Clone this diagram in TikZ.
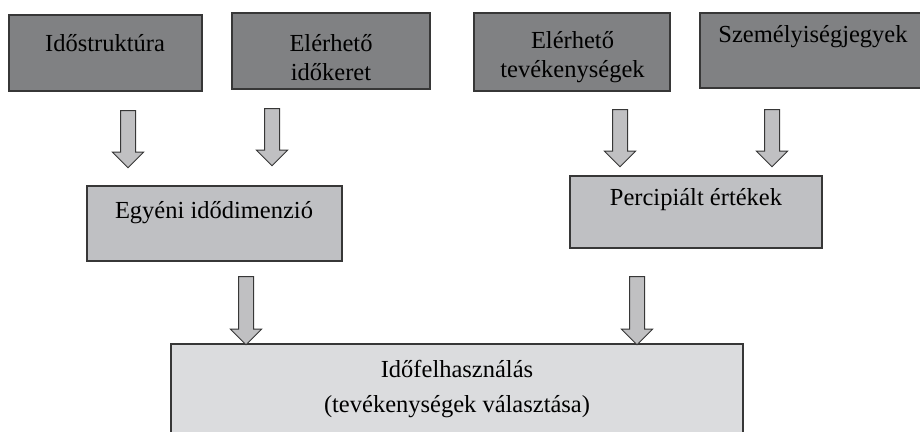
\documentclass[tikz,border=0pt]{standalone}
\usepackage{fontspec}
\setmainfont{Liberation Serif}
\usetikzlibrary{shapes.arrows}
\definecolor{colDark}{RGB}{128,129,131}
\definecolor{colMid}{RGB}{191,192,195}
\definecolor{colLight}{RGB}{219,220,222}
\definecolor{colArrow}{RGB}{192,192,194}
\definecolor{colLine}{RGB}{55,55,55}

\begin{document}
\begin{tikzpicture}[
    x=0.5pt, y=-0.5pt,
    mybox/.style={
    rectangle,
    draw=colLine,
    line width=0.6pt,
    inner sep=0pt},
    topbox/.style={mybox, fill=colDark, minimum height=38pt},
    midbox/.style={mybox, fill=colMid},
    lowbox/.style={mybox, fill=colLight},
    mytext/.style={font=\fontsize{12.25}{14.5}\selectfont, align=center, inner sep=0pt},
    myarrow/.style={
    single arrow,
    draw=colLine,
    fill=colArrow,
    line width=0.5pt,
    rotate=-90,
    inner sep=0pt,
    text height=7pt,
    text depth=0pt,
    single arrow head extend=4pt,
    minimum height=28.5pt}
    ]
    \useasboundingbox (0,0) rectangle (920,432);

    % top row
    \node[topbox, minimum width=96.5pt] (struct) at (105.5,53) {};
    \node[topbox, minimum width=99pt] (keret) at (331,51) {};
    \node[topbox, minimum width=98pt, minimum height=39pt] (tev) at (572,52) {};
    \node[topbox, minimum width=112.5pt, minimum height=37.5pt] (szem) at (812.5,50.5) {};
    \node[mytext] (struct-t) at (105,43) {Időstruktúra};
    \node[mytext] (keret-t) at (331,57.5) {Elérhető\\időkeret};
    \node[mytext] (tev-t) at (572.5,57.5) {Elérhető\\tevékenységek};
    \node[mytext] (szem-t) at (813,37) {Személyiségjegyek};

    % middle row
    \node[midbox, minimum width=127.5pt, minimum height=37.5pt] (egyeni) at (214.5,223.5) {};
    \node[midbox, minimum width=126pt, minimum height=36pt] (percip) at (696,212) {};
    \node[mytext] (egyeni-t) at (214,213) {Egyéni idődimenzió};
    \node[mytext] (percip-t) at (696,200) {Percipiált értékek};

    % bottom
    \node[lowbox, minimum width=286pt, minimum height=56pt] (ido) at (457,400) {};
    \node[mytext] (ido-t) at (457,389.5) {Időfelhasználás\\[3pt](tevékenységek választása)};

    % arrows
    \node[myarrow] (a1) at (128,135.5) {};
    \node[myarrow] (a2) at (272,133.5) {};
    \node[myarrow] (a3) at (620,134.5) {};
    \node[myarrow] (a4) at (772,134.5) {};
    \node[myarrow, minimum height=34pt] (a5) at (246,307) {};
    \node[myarrow, minimum height=34pt] (a6) at (637,307) {};
\end{tikzpicture}
\end{document}
